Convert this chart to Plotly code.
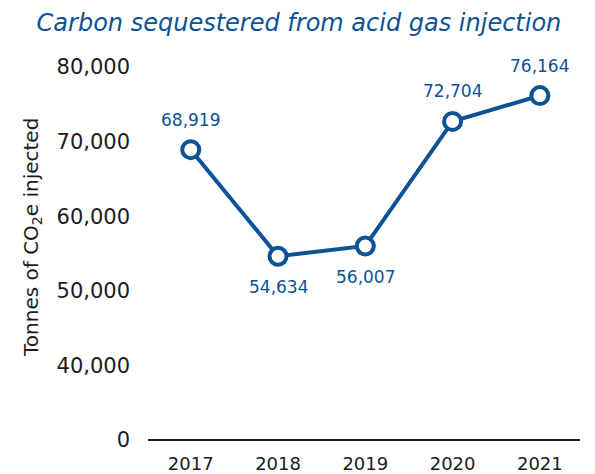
import plotly.graph_objects as go

years = ["2017", "2018", "2019", "2020", "2021"]
tonnes = [68919, 54634, 56007, 72704, 76164]
label_above = [True, False, False, True, True]
ytick_vals = [30000, 40000, 50000, 60000, 70000, 80000]
ytick_text = ["0", "40,000", "50,000", "60,000", "70,000", "80,000"]

blue = "#0b5394"
dark = "#1c1c1c"
font = "DejaVu Sans"

xs = list(range(len(years)))
fig = go.Figure()
fig.add_trace(go.Scatter(
    x=xs, y=tonnes, mode="lines+markers",
    line=dict(color=blue, width=4),
    marker=dict(size=17, color="white", line=dict(color=blue, width=4)),
    cliponaxis=False, showlegend=False, hoverinfo="x+y",
))

annotations = []
for x, v, up in zip(xs, tonnes, label_above):
    annotations.append(dict(
        x=x, y=v, xref="x", yref="y", text=f"{v:,}", showarrow=False,
        yshift=30 if up else -31, xanchor="center", yanchor="middle",
        font=dict(family=font, size=17, color=blue)))
annotations.append(dict(
    x=-0.2685, y=0.5416, xref="paper", yref="paper",
    text="Tonnes of CO<sub>2</sub>e injected", textangle=-90, showarrow=False,
    xanchor="center", yanchor="middle",
    font=dict(family=font, size=20, color=dark)))

fig.update_layout(
    width=595, height=474,
    margin=dict(l=140, r=23, t=59, b=42, autoexpand=False),
    paper_bgcolor="white", plot_bgcolor="white",
    title=dict(text="<i>Carbon sequestered from acid gas injection</i>",
               x=0.489, xanchor="center", y=0.969, yanchor="middle",
               font=dict(family=font, size=24, color=blue)),
    xaxis=dict(tickvals=xs, ticktext=years, range=[-0.49, 4.46], automargin=False,
               showgrid=False, zeroline=False, showline=False,
               ticklabelstandoff=11,
               tickfont=dict(family=font, size=18, color=dark), ticks=""),
    yaxis=dict(range=[30000, 80000], tickvals=ytick_vals, ticktext=ytick_text,
               automargin=False,
               showgrid=False, zeroline=False, showline=False, ticks="",
               ticklabelstandoff=17,
               tickfont=dict(family=font, size=21, color=dark)),
    annotations=annotations,
    shapes=[dict(type="line", xref="paper", yref="paper", x0=0, x1=1, y0=0, y1=0,
                 line=dict(color=dark, width=2))],
)

fig.write_html("out.html")
